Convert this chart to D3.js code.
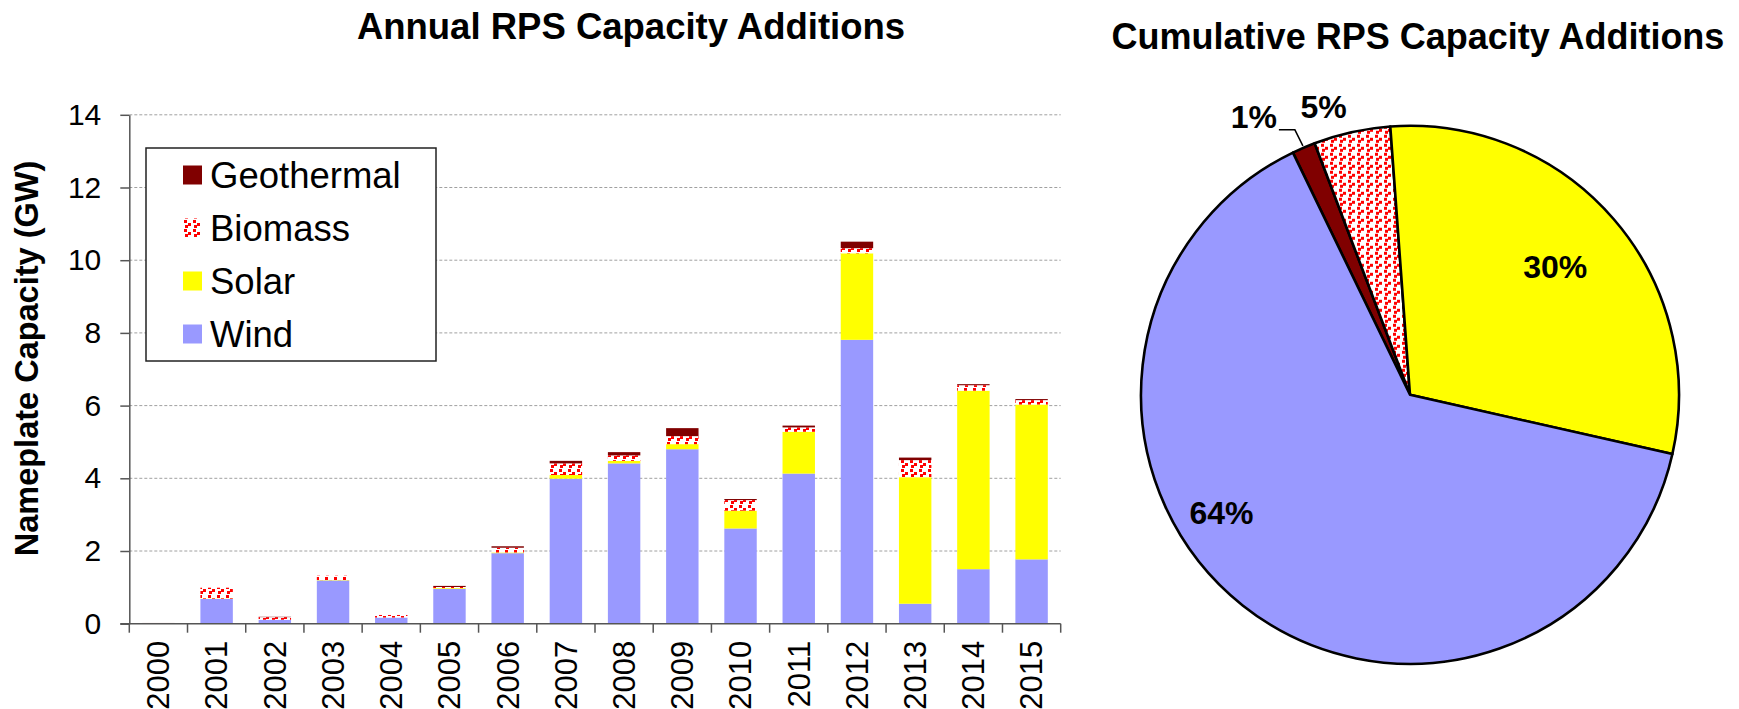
<!DOCTYPE html>
<html>
<head>
<meta charset="utf-8">
<script src="https://cdn.jsdelivr.net/npm/d3@7"></script>
<style>
  body { margin: 0; background: #fff; }
  svg { display: block; font-family: "Liberation Sans", Arial, sans-serif; }
</style>
</head>
<body>
<div id="chart"></div>
<script>
// Annual additions (GW)
const years = ["2000", "2001", "2002", "2003", "2004", "2005", "2006", "2007",
  "2008", "2009", "2010", "2011", "2012", "2013", "2014", "2015"];
const wind = [0, 0.68, 0.11, 1.19, 0.17, 0.96, 1.94, 3.99, 4.41, 4.80, 2.62, 4.13, 7.81, 0.55, 1.50, 1.77];
const solar = [0, 0.01, 0, 0.01, 0, 0.02, 0.02, 0.10, 0.07, 0.14, 0.49, 1.15, 2.38, 3.48, 4.91, 4.26];
const biomass = [0.01, 0.30, 0.07, 0.12, 0.07, 0.03, 0.13, 0.32, 0.15, 0.22, 0.29, 0.12, 0.14, 0.47, 0.15, 0.12];
const geothermal = [0.01, 0, 0.01, 0, 0, 0.03, 0.04, 0.07, 0.09, 0.22, 0.03, 0.05, 0.18, 0.07, 0.03, 0.03];
const yTicks = [0, 2, 4, 6, 8, 10, 12, 14];

// Cumulative shares (%), pie order clockwise
const pieCategories = ["Geothermal", "Biomass", "Solar", "Wind"];
const pieShares = [1.4, 4.6, 29.7, 64.3];

const seriesKeys = ["Wind", "Solar", "Biomass", "Geothermal"];
const legendKeys = ["Geothermal", "Biomass", "Solar", "Wind"];

const width = 1739, height = 709;
const svg = d3.select("#chart").append("svg")
  .attr("width", width)
  .attr("height", height)
  .attr("viewBox", [0, 0, width, height]);

// biomass confetti pattern
const pat = svg.append("defs").append("pattern")
  .attr("id", "confetti")
  .attr("patternUnits", "userSpaceOnUse")
  .attr("width", 9).attr("height", 9);
pat.append("rect").attr("width", 9).attr("height", 9).attr("fill", "#fff");
[[1, 1], [5, 4], [2, 6]].forEach(([px, py]) => {
  pat.append("rect").attr("x", px).attr("y", py).attr("width", 3).attr("height", 3).attr("fill", "#ff0000");
});

const colors = {
  Wind: "#9999ff",
  Solar: "#ffff00",
  Biomass: "url(#confetti)",
  Geothermal: "#800000"
};

// ---------- bar chart ----------
const plot = { left: 129.3, right: 1060.7, top: 114.8, bottom: 623.7 };

const x = d3.scaleBand()
  .domain(years)
  .range([plot.left, plot.right])
  .paddingInner(0.443)
  .paddingOuter(0.2215);

const y = d3.scaleLinear()
  .domain([0, 14])
  .range([plot.bottom, plot.top]);

const rows = years.map((yr, i) => ({
  year: yr,
  Wind: wind[i],
  Solar: solar[i],
  Biomass: biomass[i],
  Geothermal: geothermal[i]
}));

const stacked = d3.stack().keys(seriesKeys)(rows);

// gridlines
svg.append("g")
  .selectAll("line")
  .data(yTicks.filter(d => d > 0))
  .join("line")
  .attr("x1", plot.left)
  .attr("x2", plot.right)
  .attr("y1", d => y(d))
  .attr("y2", d => y(d))
  .attr("stroke", "#a0a0a0")
  .attr("stroke-width", 1)
  .attr("stroke-dasharray", "3,2");

// bars
svg.append("g")
  .selectAll("g")
  .data(stacked)
  .join("g")
  .attr("fill", d => colors[d.key])
  .selectAll("rect")
  .data(d => d)
  .join("rect")
  .attr("x", d => x(d.data.year))
  .attr("width", x.bandwidth())
  .attr("y", d => y(d[1]))
  .attr("height", d => Math.max(0, y(d[0]) - y(d[1])));

// y axis
const yAxis = svg.append("g")
  .attr("transform", `translate(${plot.left},0)`)
  .call(d3.axisLeft(y).tickValues(yTicks).tickSize(9).tickSizeOuter(0).tickPadding(19));
yAxis.select(".domain").attr("stroke", "#555").attr("stroke-width", 1.5);
yAxis.selectAll(".tick line").attr("stroke", "#555").attr("stroke-width", 1.5);
yAxis.selectAll(".tick text")
  .attr("fill", "#000")
  .style("font-size", "30px")
  .style("font-family", "'Liberation Sans', Arial, sans-serif");

// x axis
const xg = svg.append("g");
xg.append("line")
  .attr("x1", plot.left - 9)
  .attr("x2", plot.right)
  .attr("y1", plot.bottom)
  .attr("y2", plot.bottom)
  .attr("stroke", "#555")
  .attr("stroke-width", 1.5);

const step = x.step();
const bounds = years.map(yr => x(yr) - (step - x.bandwidth()) / 2).concat([plot.right]);
xg.selectAll(".xtick")
  .data(bounds)
  .join("line")
  .attr("class", "xtick")
  .attr("x1", d => d)
  .attr("x2", d => d)
  .attr("y1", plot.bottom)
  .attr("y2", plot.bottom + 9)
  .attr("stroke", "#555")
  .attr("stroke-width", 1.5);

xg.selectAll(".xlabel")
  .data(years)
  .join("text")
  .attr("class", "xlabel")
  .attr("transform", d => `translate(${x(d) + x.bandwidth() / 2},${plot.bottom + 17}) rotate(-90)`)
  .attr("text-anchor", "end")
  .attr("dy", "0.35em")
  .style("font-size", "31px")
  .text(d => d);

// y axis title
svg.append("text")
  .attr("transform", "translate(38,358.5) rotate(-90)")
  .attr("text-anchor", "middle")
  .style("font-size", "32.5px")
  .style("font-weight", "bold")
  .text("Nameplate Capacity (GW)");

// title
svg.append("text")
  .attr("x", 631)
  .attr("y", 39)
  .attr("text-anchor", "middle")
  .style("font-size", "36.5px")
  .style("font-weight", "bold")
  .text("Annual RPS Capacity Additions");

// legend
const legend = svg.append("g");
legend.append("rect")
  .attr("x", 146)
  .attr("y", 148)
  .attr("width", 290)
  .attr("height", 213)
  .attr("fill", "#fff")
  .attr("stroke", "#222")
  .attr("stroke-width", 1.5);

const legendItem = legend.selectAll(".item")
  .data(legendKeys)
  .join("g")
  .attr("class", "item")
  .attr("transform", (d, i) => `translate(183,${175 + i * 53})`);

legendItem.append("rect")
  .attr("y", -9.5)
  .attr("width", 19)
  .attr("height", 19)
  .attr("fill", d => colors[d]);

legendItem.append("text")
  .attr("x", 27)
  .attr("dy", "0.36em")
  .style("font-size", "36.5px")
  .text(d => d);

// ---------- pie ----------
const cx = 1410, cy = 394.8, r = 269;
const startDeg = -25.8;

const pie = d3.pie()
  .sort(null)
  .value(d => d.value)
  .startAngle(startDeg * Math.PI / 180)
  .endAngle((startDeg + 360) * Math.PI / 180);

const arcs = pie(pieCategories.map((c, i) => ({ key: c, value: pieShares[i] })));
const arc = d3.arc().innerRadius(0).outerRadius(r);

const pg = svg.append("g").attr("transform", `translate(${cx},${cy})`);
pg.selectAll("path")
  .data(arcs)
  .join("path")
  .attr("d", arc)
  .attr("fill", d => colors[d.data.key])
  .attr("stroke", "#000")
  .attr("stroke-width", 2.6)
  .attr("stroke-linejoin", "round");

// label placement: [angle in degrees clockwise from 12 o'clock, distance from centre]
const labelPlace = {
  Geothermal: [-29.3, 319],
  Biomass: [-16.7, 301],
  Solar: [48.5, 194],
  Wind: [238.1, 222]
};
const polar = (deg, dist) => [Math.sin(deg * Math.PI / 180) * dist, -Math.cos(deg * Math.PI / 180) * dist];

pg.selectAll(".plabel")
  .data(arcs)
  .join("text")
  .attr("class", "plabel")
  .attr("x", d => polar(...labelPlace[d.data.key])[0])
  .attr("y", d => polar(...labelPlace[d.data.key])[1])
  .attr("dy", "0.36em")
  .attr("text-anchor", "middle")
  .style("font-size", "32px")
  .style("font-weight", "bold")
  .text(d => d3.format(".0f")(d.data.value) + "%");

// leader line for the small geothermal slice
const geo = arcs.find(d => d.data.key === "Geothermal");
const geoMid = ((geo.startAngle + geo.endAngle) / 2) * 180 / Math.PI;
const pEnd = polar(geoMid, r + 2);
const pElbow = [pEnd[0] - 8, pEnd[1] - 16];
const pStart = [pElbow[0] - 16, pElbow[1]];
pg.append("path")
  .attr("d", d3.line()([pStart, pElbow, pEnd]))
  .attr("fill", "none")
  .attr("stroke", "#000")
  .attr("stroke-width", 1.5);

svg.append("text")
  .attr("x", 1418)
  .attr("y", 49)
  .attr("text-anchor", "middle")
  .style("font-size", "36px")
  .style("font-weight", "bold")
  .text("Cumulative RPS Capacity Additions");
</script>
</body>
</html>
